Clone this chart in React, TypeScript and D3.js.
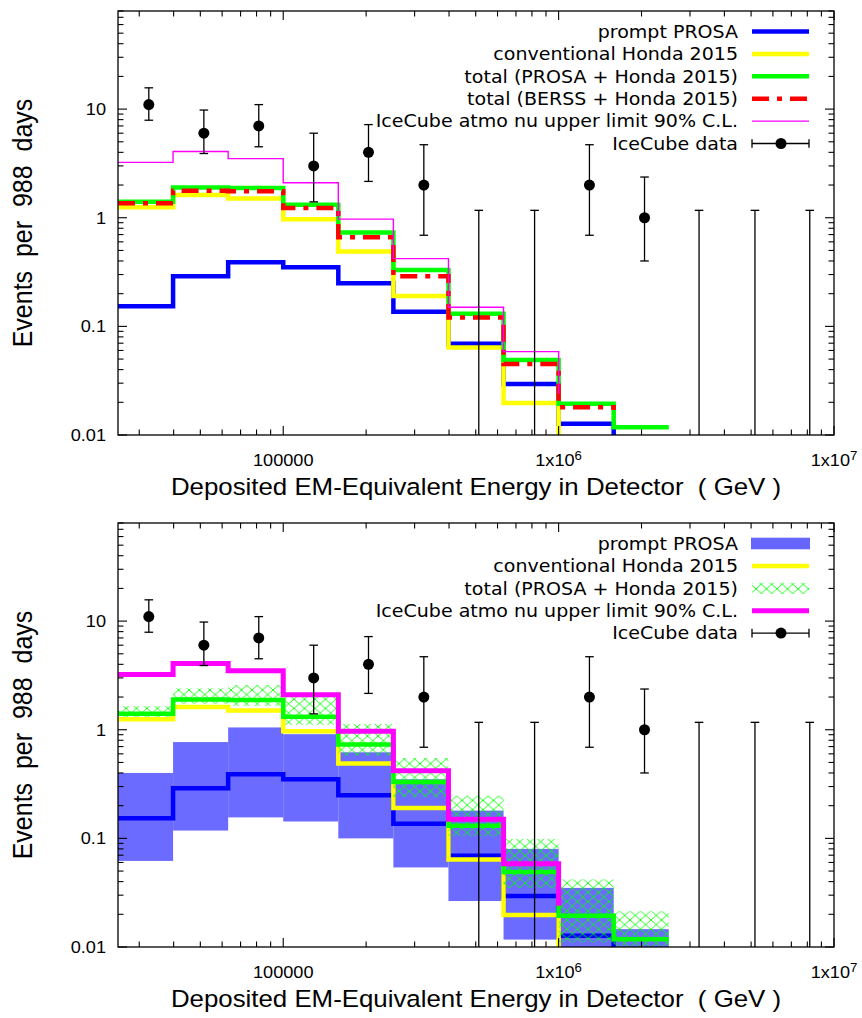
import React from 'react';
import * as d3 from 'd3';

// ---------- data ----------
// bin lower edges (GeV), 0.2 decade bins
const binEdges = [25119, 39811, 63096, 100000, 158489, 251189, 398107, 630957, 1000000, 1584893, 2511886];
const xDomain = [25119, 10000000];
const yDomain = [0.01, 80];

// step-line values at successive bin edges (gnuplot "steps"); last entry is the end point
const promptPROSA = [0.153, 0.29, 0.39, 0.35, 0.25, 0.136, 0.069, 0.0295, 0.0127, 0.005];
const conventionalHonda = [1.25, 1.62, 1.5, 0.97, 0.49, 0.19, 0.064, 0.0197, 0.005];
const totalPROSA = [1.4, 1.9, 1.88, 1.32, 0.73, 0.33, 0.131, 0.049, 0.0194, 0.0118, 0.0118];
const totalBERSS = [1.36, 1.77, 1.75, 1.23, 0.66, 0.29, 0.121, 0.045, 0.018, 0.017];
const atmoUpperLimit = [3.23, 4.07, 3.5, 2.1, 0.97, 0.42, 0.15, 0.0585, 0.024];

// uncertainty bands per bin (bottom panel)
const promptLow = [0.062, 0.118, 0.156, 0.143, 0.1, 0.054, 0.0265, 0.0117, 0.005, 0.002];
const promptHigh = [0.4, 0.77, 1.05, 0.91, 0.62, 0.35, 0.18, 0.08, 0.035, 0.0146];
const totalLow = [1.31, 1.74, 1.66, 1.11, 0.58, 0.24, 0.105, 0.035, 0.011, 0.005];
const totalHigh = [1.65, 2.4, 2.58, 2.05, 1.13, 0.55, 0.247, 0.099, 0.042, 0.0213];

// IceCube data
const dataEnergy = [32500, 51500, 81500, 129000, 204000, 324000, 513000, 818000, 1294000, 2051000, 3236000, 5164000, 8166000];
const dataEvents = [11, 6, 7, 3, 4, 2, 0, 0, 2, 1, 0, 0, 0];
const dataErrLow = [7.9, 3.9, 4.5, 1.4, 2.16, 0.69, 0, 0, 0.69, 0.4, 0, 0, 0];
const dataErrHigh = [15.7, 9.8, 11.0, 6.0, 7.2, 4.7, 1.17, 1.17, 4.7, 2.37, 1.17, 1.17, 1.17];

// ticks
const yTickValues = [0.01, 0.1, 1, 10];
const yTickLabels = ['0.01', '0.1', '1', '10'];
const xTickValues = [100000, 1000000, 10000000];
const xTickLabels = [['100000', ''], ['1x10', '6'], ['1x10', '7']];

const topLegend = [
  'prompt PROSA',
  'conventional Honda 2015',
  'total (PROSA + Honda 2015)',
  'total (BERSS + Honda 2015)',
  'IceCube atmo nu upper limit 90% C.L.',
  'IceCube data',
];
const bottomLegend = [
  'prompt PROSA',
  'conventional Honda 2015',
  'total (PROSA + Honda 2015)',
  'IceCube atmo nu upper limit 90% C.L.',
  'IceCube data',
];
const xLabel = 'Deposited EM-Equivalent Energy in Detector\u00a0\u00a0( GeV )';
const yLabel = 'Events\u00a0\u00a0per\u00a0\u00a0988\u00a0\u00a0days';

// ---------- layout ----------
const W = 862;
const H = 1018;
const X0 = 118;
const X1 = 834;
const PT = 11;
const PB = 435;
const SHIFT = 512;
const SX = 1.1;
const SANS = '"Liberation Sans", Arial, sans-serif';
const DEJAVU = '"DejaVu Sans", sans-serif';

const BLUE = '#0000ff';
const YELLOW = '#ffff00';
const GREEN = '#00ff00';
const RED = '#ff0000';
const MAGENTA = '#ff00ff';
const BAND = '#6666ff';

function T({ x, y, anchor = 'start', size, family = SANS, children, rotate = false }: any) {
  const tr = rotate
    ? `translate(${x},${y}) scale(${SX},1) rotate(-90)`
    : `translate(${x},${y}) scale(${SX},1)`;
  return (
    <text transform={tr} textAnchor={anchor} fontSize={size} fontFamily={family} fill="#000">
      {children}
    </text>
  );
}

function Panel({ dy, bottom }: { dy: number; bottom: boolean }) {
  const x = d3.scaleLog().domain(xDomain).range([X0, X1]);
  const y = d3.scaleLog().domain(yDomain).range([PB + dy, PT + dy]);
  const top = PT + dy;
  const bot = PB + dy;
  const clipId = `clip${bottom ? 'b' : 't'}`;

  const step = d3
    .line<number>()
    .x((_, i) => x(binEdges[i]))
    .y((v) => y(v))
    .curve(d3.curveStepAfter);

  const xt = x.ticks();
  const yt = y.ticks();
  const isMajor = (v: number) => Math.abs(Math.log10(v) - Math.round(Math.log10(v))) < 1e-6;

  const legendRows = bottom ? bottomLegend : topLegend;
  const rowY = (i: number) => 31.5 + dy + i * 22.4;
  const LX0 = 752;
  const LX1 = 809;

  const errBar = (cx: number, lo: number, hi: number, cy: number | null, key: any) => {
    const yHi = y(hi);
    const yLo = lo > 0 ? y(lo) : bot;
    return (
      <g key={key} stroke="#000" strokeWidth={1.3}>
        <line x1={cx} x2={cx} y1={yLo} y2={yHi} />
        <line x1={cx - 4.3} x2={cx + 4.3} y1={yHi} y2={yHi} />
        {lo > 0 && <line x1={cx - 4.3} x2={cx + 4.3} y1={yLo} y2={yLo} />}
        {cy !== null && <circle cx={cx} cy={cy} r={5.5} fill="#000" stroke="none" />}
      </g>
    );
  };

  return (
    <g>
      <defs>
        <clipPath id={clipId}>
          <rect x={X0} y={top} width={X1 - X0} height={bot - top} />
        </clipPath>
      </defs>

      <g clipPath={`url(#${clipId})`}>
        {bottom && (
          <g>
            {promptLow.map((lo, i) => (
              <rect
                key={'pb' + i}
                x={x(binEdges[i])}
                width={x(binEdges[i + 1]) - x(binEdges[i])}
                y={y(promptHigh[i])}
                height={y(lo) - y(promptHigh[i])}
                fill={BAND}
                fillOpacity={0.97}
              />
            ))}
          </g>
        )}
        <path d={step(promptPROSA) || ''} fill="none" stroke={BLUE} strokeWidth={4.5} />
        <path d={step(conventionalHonda) || ''} fill="none" stroke={YELLOW} strokeWidth={4.5} />
        {bottom && (
          <g>
            {totalLow.map((lo, i) => (
              <rect
                key={'tb' + i}
                x={x(binEdges[i])}
                width={x(binEdges[i + 1]) - x(binEdges[i])}
                y={y(totalHigh[i])}
                height={y(lo) - y(totalHigh[i])}
                fill="url(#hatch)"
              />
            ))}
          </g>
        )}
        <path d={step(totalPROSA) || ''} fill="none" stroke={GREEN} strokeWidth={4.5} />
        {!bottom && (
          <path
            d={step(totalBERSS) || ''}
            fill="none"
            stroke={RED}
            strokeWidth={4.5}
            strokeDasharray="17 8 5 8"
          />
        )}
        <path
          d={step(atmoUpperLimit) || ''}
          fill="none"
          stroke={MAGENTA}
          strokeWidth={bottom ? 5 : 1.4}
        />
        {dataEvents.map((n, i) =>
          errBar(x(dataEnergy[i]), dataErrLow[i], dataErrHigh[i], n > 0 ? y(n) : null, 'd' + i)
        )}
      </g>

      {/* frame */}
      <rect x={X0} y={top} width={X1 - X0} height={bot - top} fill="none" stroke="#000" strokeWidth={1.3} />

      {/* ticks */}
      <g stroke="#000" strokeWidth={1.1}>
        {xt.map((v, i) => {
          const L = isMajor(v) ? 9 : 5.5;
          const px = x(v);
          return (
            <g key={'xt' + i}>
              <line x1={px} x2={px} y1={bot} y2={bot - L} />
              <line x1={px} x2={px} y1={top} y2={top + L} />
            </g>
          );
        })}
        {yt.map((v, i) => {
          const L = isMajor(v) ? 9 : 5.5;
          const py = y(v);
          return (
            <g key={'yt' + i}>
              <line x1={X0} x2={X0 + L} y1={py} y2={py} />
              <line x1={X1} x2={X1 - L} y1={py} y2={py} />
            </g>
          );
        })}
      </g>

      {/* tick labels */}
      {yTickValues.map((v, i) => (
        <T key={'yl' + i} x={106} y={y(v) + 6} anchor="end" size={16.5}>
          {yTickLabels[i]}
        </T>
      ))}
      {xTickValues.map((v, i) => (
        <T key={'xl' + i} x={x(v)} y={bot + 30.5} anchor="middle" size={16.5}>
          <tspan>{xTickLabels[i][0]}</tspan>
          {xTickLabels[i][1] && (
            <tspan dy={-6} fontSize={12}>
              {xTickLabels[i][1]}
            </tspan>
          )}
        </T>
      ))}

      {/* axis labels */}
      <T x={(X0 + X1) / 2} y={bot + 60} anchor="middle" size={23.5}>
        {xLabel}
      </T>
      <T x={31.5} y={(top + bot) / 2} anchor="middle" size={25} rotate>
        {yLabel}
      </T>

      {/* legend */}
      {legendRows.map((label, i) => (
        <T key={'lg' + i} x={738} y={rowY(i) + 6.3} anchor="end" size={17.3} family={DEJAVU}>
          {label}
        </T>
      ))}
      {!bottom && (
        <g>
          <line x1={LX0} x2={LX1} y1={rowY(0)} y2={rowY(0)} stroke={BLUE} strokeWidth={4.5} />
          <line x1={LX0} x2={LX1} y1={rowY(1)} y2={rowY(1)} stroke={YELLOW} strokeWidth={4.5} />
          <line x1={LX0} x2={LX1} y1={rowY(2)} y2={rowY(2)} stroke={GREEN} strokeWidth={4.5} />
          <line x1={LX0} x2={LX1} y1={rowY(3)} y2={rowY(3)} stroke={RED} strokeWidth={4.5} strokeDasharray="17 8 5 8" />
          <line x1={LX0} x2={LX1} y1={rowY(4)} y2={rowY(4)} stroke={MAGENTA} strokeWidth={1.4} />
        </g>
      )}
      {bottom && (
        <g>
          <rect x={LX0 - 1} y={rowY(0) - 5.8} width={LX1 - LX0 + 2} height={11.6} fill={BAND} />
          <line x1={LX0} x2={LX1} y1={rowY(1)} y2={rowY(1)} stroke={YELLOW} strokeWidth={4.5} />
          <rect x={LX0} y={rowY(2) - 5.5} width={LX1 - LX0} height={11} fill="url(#hatch)" />
          <line x1={LX0} x2={LX1} y1={rowY(3)} y2={rowY(3)} stroke={MAGENTA} strokeWidth={5} />
        </g>
      )}
      {(() => {
        const ry = rowY(legendRows.length - 1);
        return (
          <g stroke="#000" strokeWidth={1.3}>
            <line x1={LX0} x2={LX1} y1={ry} y2={ry} />
            <line x1={LX0} x2={LX0} y1={ry - 4.3} y2={ry + 4.3} />
            <line x1={LX1} x2={LX1} y1={ry - 4.3} y2={ry + 4.3} />
            <circle cx={(LX0 + LX1) / 2 + 0.5} cy={ry} r={5.5} fill="#000" stroke="none" />
          </g>
        );
      })()}
    </g>
  );
}

export default function App() {
  return (
    <svg
      width={W}
      height={H}
      viewBox={`0 0 ${W} ${H}`}
      style={{ position: 'absolute', left: 0, top: 0, background: '#fff' }}
    >
      <defs>
        <pattern id="hatch" patternUnits="userSpaceOnUse" width={10.5} height={9.2}>
          <path d="M0,0 L10.5,9.2 M10.5,0 L0,9.2" stroke={GREEN} strokeWidth={0.9} fill="none" />
        </pattern>
      </defs>
      <rect x={0} y={0} width={W} height={H} fill="#fff" />
      <Panel dy={0} bottom={false} />
      <Panel dy={SHIFT} bottom={true} />
    </svg>
  );
}
